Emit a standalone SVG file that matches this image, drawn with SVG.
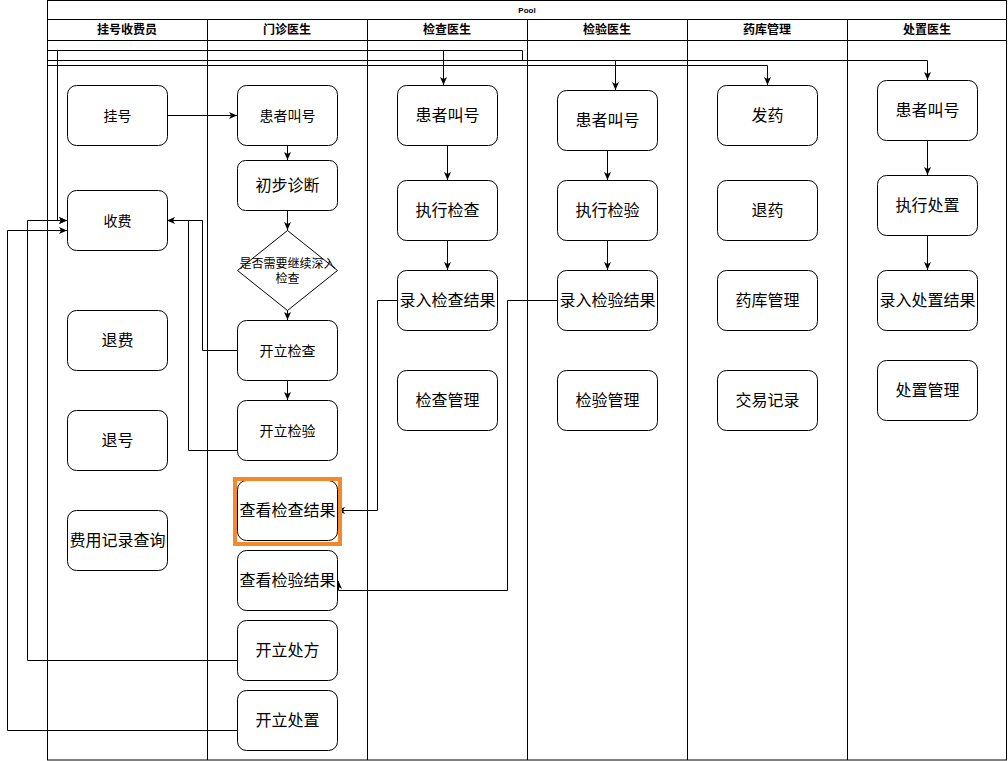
<svg xmlns="http://www.w3.org/2000/svg" width="1008" height="761" viewBox="0 0 1008 761">
<style>
  .lane{fill:none;stroke:#000;stroke-width:1}
  .hdr{font-family:"Liberation Sans","Noto Sans CJK SC",sans-serif;font-weight:bold;font-size:12px;fill:#000;text-anchor:middle;dominant-baseline:central}
  .box{fill:#fff;stroke:#000;stroke-width:1}
  .t{font-family:"Liberation Sans","Noto Sans CJK SC",sans-serif;font-size:16px;fill:#000;text-anchor:middle;dominant-baseline:central}
  .s14{font-size:14px}
  .s12{font-size:12px}
  .e{fill:none;stroke:#000;stroke-width:1}
  .ea{fill:none;stroke:#000;stroke-width:1;marker-end:url(#arr)}
</style>
<defs>
  <marker id="arr" markerUnits="userSpaceOnUse" markerWidth="8" markerHeight="8" viewBox="0 0 8 8" refX="8" refY="4" orient="auto">
    <path d="M0,0.5 L8,4 L0,7.5 L2,4 Z" fill="#000"/>
  </marker>
</defs>
<rect width="1008" height="761" fill="#fff"/>
<g id="pool">
  <rect class="lane" x="47.5" y="0.5" width="959" height="759.5"/>
  <text class="hdr" style="font-size:8px" x="527" y="10">Pool</text>
  <line class="lane" x1="47.5" y1="19.5" x2="1006.5" y2="19.5"/>
  <line class="lane" x1="47.5" y1="40.5" x2="1006.5" y2="40.5"/>
  <line class="lane" x1="207.5" y1="19.5" x2="207.5" y2="760"/>
  <line class="lane" x1="367.5" y1="19.5" x2="367.5" y2="760"/>
  <line class="lane" x1="527.5" y1="19.5" x2="527.5" y2="760"/>
  <line class="lane" x1="687.5" y1="19.5" x2="687.5" y2="760"/>
  <line class="lane" x1="847.5" y1="19.5" x2="847.5" y2="760"/>
  <text class="hdr" x="127" y="30">挂号收费员</text>
  <text class="hdr" x="287" y="30">门诊医生</text>
  <text class="hdr" x="447" y="30">检查医生</text>
  <text class="hdr" x="607" y="30">检验医生</text>
  <text class="hdr" x="767" y="30">药库管理</text>
  <text class="hdr" x="927" y="30">处置医生</text>
</g>
<g id="connectors">
  <path class="e" d="M47.5,50.5 H522.5 V60.5"/>
  <path class="ea" d="M57.5,50.5 V220.5 H67"/>
  <path class="ea" d="M443.5,50.5 V85"/>
  <path class="ea" d="M47.5,60.5 H927.5 V80"/>
  <path class="ea" d="M615.5,60.5 V90"/>
  <path class="ea" d="M47.5,65.5 H767.5 V85"/>
  <path class="ea" d="M167,115.5 H237"/>
  <path class="ea" d="M287.5,145 V160"/>
  <path class="ea" d="M287.5,210 V230"/>
  <path class="ea" d="M287.5,310 V320"/>
  <path class="ea" d="M287.5,380 V400"/>
  <path class="ea" d="M237,350.5 H202.5 V220.5 H167"/>
  <path class="e" d="M237,450.5 H188.5 V220.5 H202.5"/>
  <path class="ea" d="M237,660.5 H27.5 V220.5 H67"/>
  <path class="ea" d="M237,730.5 H7.5 V230.5 H67"/>
  <path class="ea" d="M447.5,145 V180"/>
  <path class="ea" d="M447.5,240 V270"/>
  <path class="ea" d="M607.5,150 V180"/>
  <path class="ea" d="M607.5,240 V270"/>
  <path class="ea" d="M927.5,140 V175"/>
  <path class="ea" d="M927.5,235 V270"/>
  <path class="ea" d="M397,300.5 H377.5 V510.5 H337"/>
  <path class="ea" d="M557,300.5 H507.5 V590.5 H338.5 V581"/>
</g>
<g id="n-guahao"><rect class="box" x="67.5" y="85.5" width="100" height="60" rx="9"/><text class="t s14" x="117.5" y="115.5">挂号</text></g>
<g id="n-shoufei"><rect class="box" x="67.5" y="190.5" width="100" height="60" rx="9"/><text class="t s14" x="117.5" y="220.5">收费</text></g>
<g id="n-tuifei"><rect class="box" x="67.5" y="310.5" width="100" height="60" rx="9"/><text class="t" x="117.5" y="340.5">退费</text></g>
<g id="n-tuihao"><rect class="box" x="67.5" y="410.5" width="100" height="60" rx="9"/><text class="t" x="117.5" y="440.5">退号</text></g>
<g id="n-feiyong"><rect class="box" x="67.5" y="510.5" width="100" height="60" rx="9"/><text class="t" x="117.5" y="540.5">费用记录查询</text></g>

<g id="n-mz-jiaohao"><rect class="box" x="237.5" y="85.5" width="100" height="60" rx="9"/><text class="t s14" x="287.5" y="115.5">患者叫号</text></g>
<g id="n-chubu"><rect class="box" x="237.5" y="160.5" width="100" height="50" rx="8"/><text class="t" x="287.5" y="185.5">初步诊断</text></g>
<g id="n-decide"><path class="box" d="M287.5,230.5 L337.5,270.5 L287.5,310.5 L237.5,270.5 Z"/><text class="t s12" x="287.5" y="263.5">是否需要继续深入</text><text class="t s12" x="287.5" y="278.5">检查</text></g>
<g id="n-kljc"><rect class="box" x="237.5" y="320.5" width="100" height="60" rx="9"/><text class="t s14" x="287.5" y="350.5">开立检查</text></g>
<g id="n-kljy"><rect class="box" x="237.5" y="400.5" width="100" height="60" rx="9"/><text class="t s14" x="287.5" y="430.5">开立检验</text></g>
<g id="n-ckjc"><rect class="box" x="237.5" y="480.5" width="100" height="60" rx="9"/><text class="t" x="287.5" y="510.5">查看检查结果</text></g>
<g id="n-ckjy"><rect class="box" x="237.5" y="550.5" width="100" height="60" rx="9"/><text class="t" x="287.5" y="580.5">查看检验结果</text></g>
<g id="n-klcf"><rect class="box" x="237.5" y="620.5" width="100" height="60" rx="9"/><text class="t" x="287.5" y="650.5">开立处方</text></g>
<g id="n-klcz"><rect class="box" x="237.5" y="690.5" width="100" height="60" rx="9"/><text class="t" x="287.5" y="720.5">开立处置</text></g>

<g id="n-jc-jiaohao"><rect class="box" x="397.5" y="85.5" width="100" height="60" rx="9"/><text class="t" x="447.5" y="115.5">患者叫号</text></g>
<g id="n-zxjc"><rect class="box" x="397.5" y="180.5" width="100" height="60" rx="9"/><text class="t" x="447.5" y="210.5">执行检查</text></g>
<g id="n-lrjc"><rect class="box" x="397.5" y="270.5" width="100" height="60" rx="9"/><text class="t" x="447.5" y="300.5">录入检查结果</text></g>
<g id="n-jcgl"><rect class="box" x="397.5" y="370.5" width="100" height="60" rx="9"/><text class="t" x="447.5" y="400.5">检查管理</text></g>

<g id="n-jy-jiaohao"><rect class="box" x="557.5" y="90.5" width="100" height="60" rx="9"/><text class="t" x="607.5" y="120.5">患者叫号</text></g>
<g id="n-zxjy"><rect class="box" x="557.5" y="180.5" width="100" height="60" rx="9"/><text class="t" x="607.5" y="210.5">执行检验</text></g>
<g id="n-lrjy"><rect class="box" x="557.5" y="270.5" width="100" height="60" rx="9"/><text class="t" x="607.5" y="300.5">录入检验结果</text></g>
<g id="n-jygl"><rect class="box" x="557.5" y="370.5" width="100" height="60" rx="9"/><text class="t" x="607.5" y="400.5">检验管理</text></g>

<g id="n-fayao"><rect class="box" x="717.5" y="85.5" width="100" height="60" rx="9"/><text class="t" x="767.5" y="115.5">发药</text></g>
<g id="n-tuiyao"><rect class="box" x="717.5" y="180.5" width="100" height="60" rx="9"/><text class="t" x="767.5" y="210.5">退药</text></g>
<g id="n-ykgl"><rect class="box" x="717.5" y="270.5" width="100" height="60" rx="9"/><text class="t" x="767.5" y="300.5">药库管理</text></g>
<g id="n-jyjl"><rect class="box" x="717.5" y="370.5" width="100" height="60" rx="9"/><text class="t" x="767.5" y="400.5">交易记录</text></g>

<g id="n-cz-jiaohao"><rect class="box" x="877.5" y="80.5" width="100" height="60" rx="9"/><text class="t" x="927.5" y="110.5">患者叫号</text></g>
<g id="n-zxcz"><rect class="box" x="877.5" y="175.5" width="100" height="60" rx="9"/><text class="t" x="927.5" y="205.5">执行处置</text></g>
<g id="n-lrcz"><rect class="box" x="877.5" y="270.5" width="100" height="60" rx="9"/><text class="t" x="927.5" y="300.5">录入处置结果</text></g>
<g id="n-czgl"><rect class="box" x="877.5" y="360.5" width="100" height="60" rx="9"/><text class="t" x="927.5" y="390.5">处置管理</text></g>

<g id="highlight"><rect x="235" y="479" width="105" height="65" fill="none" stroke="#F5872D" stroke-width="4"/></g>
</svg>
